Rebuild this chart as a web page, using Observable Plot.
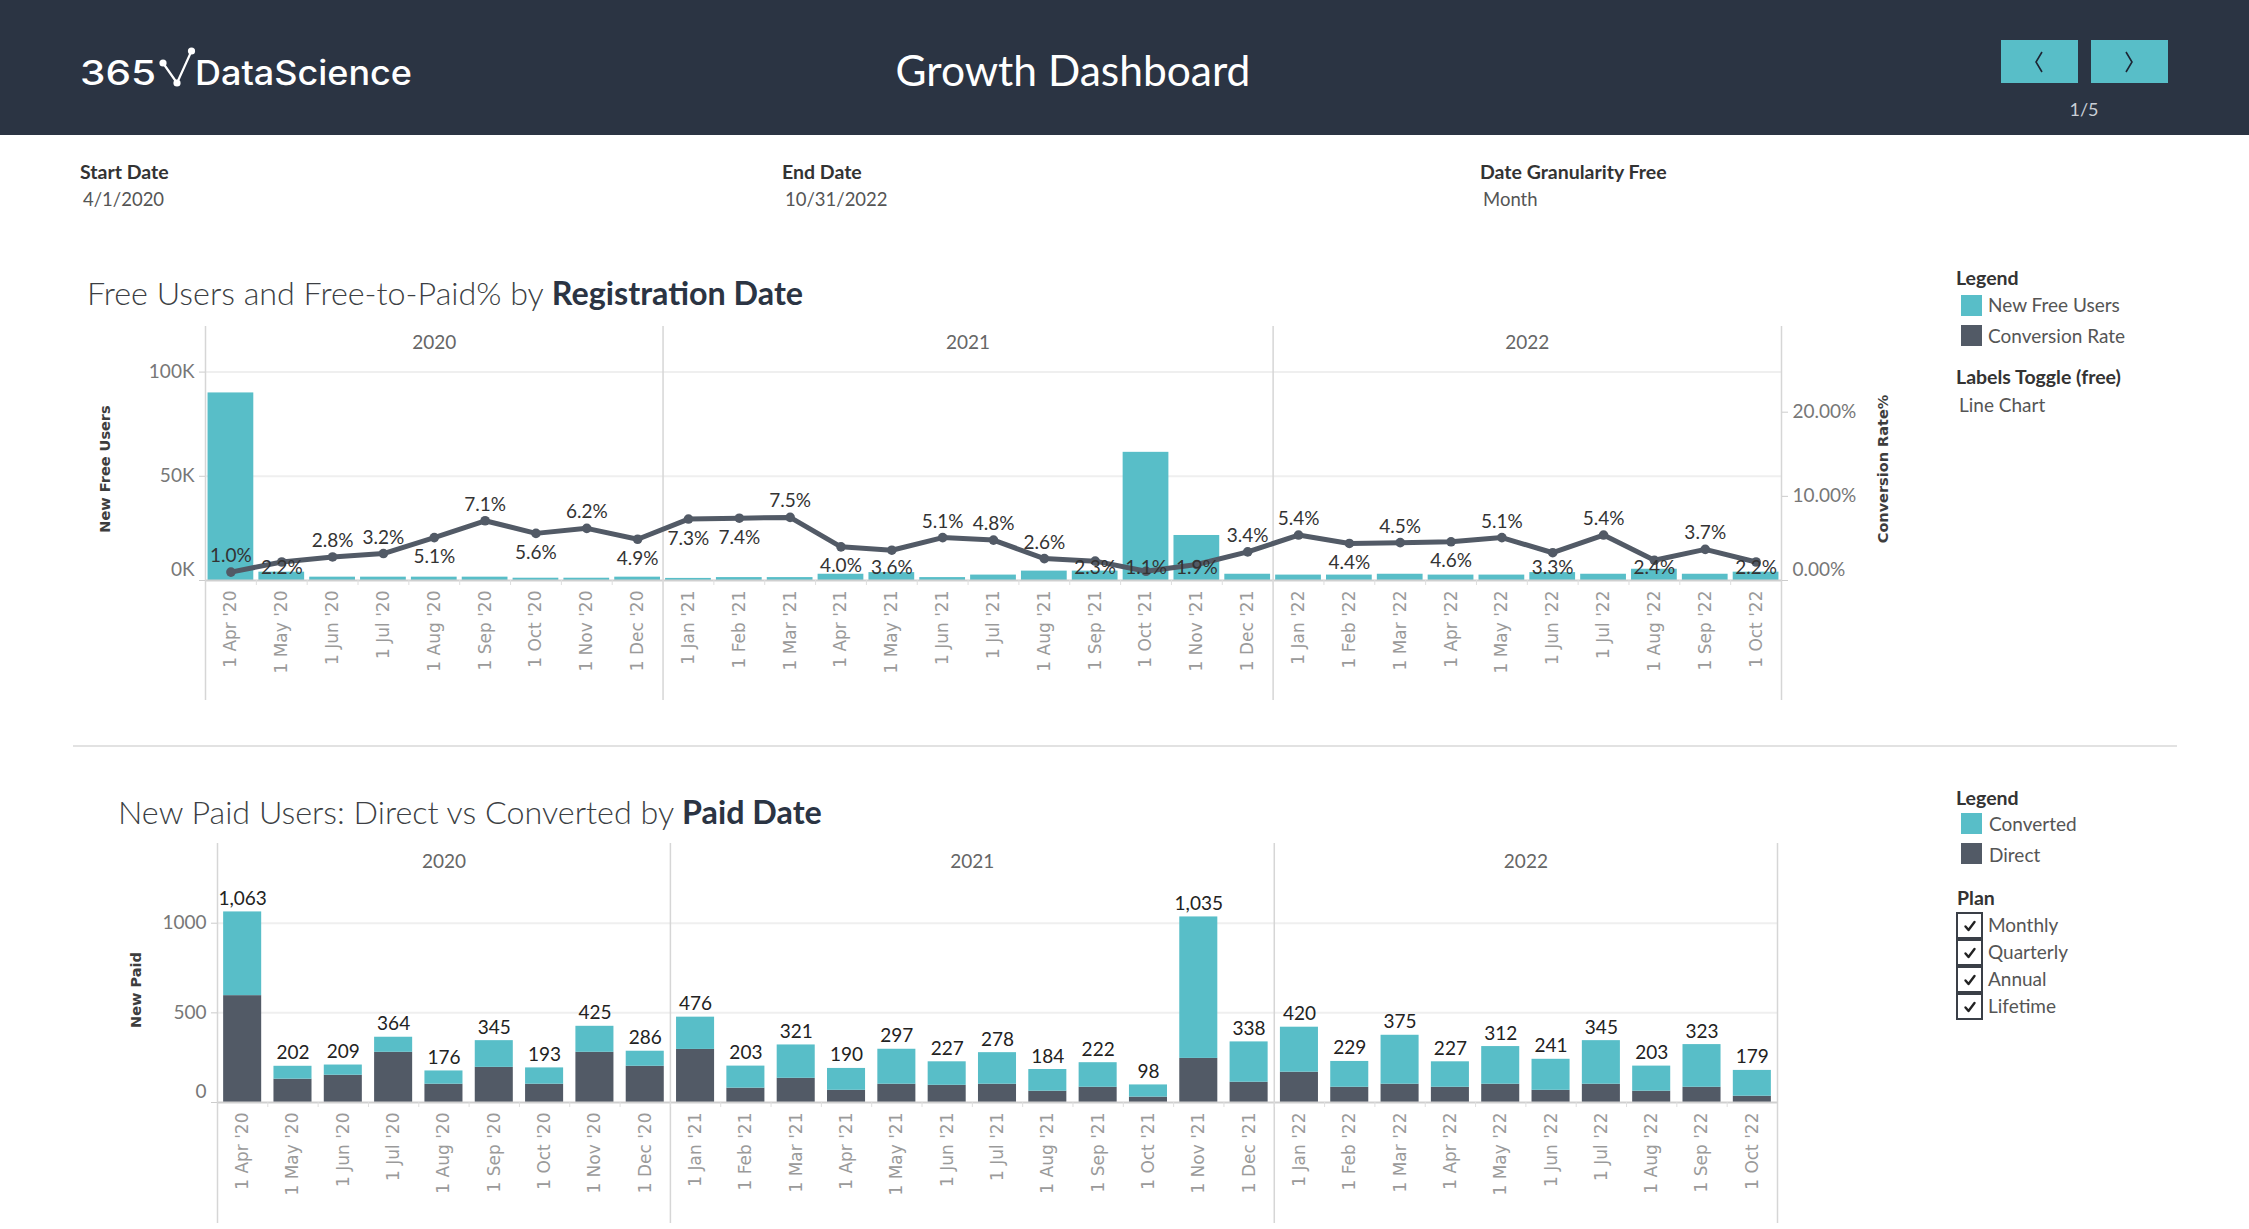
<!DOCTYPE html>
<html>
<head>
<meta charset="utf-8">
<title>Growth Dashboard</title>
<script src="https://cdn.jsdelivr.net/npm/d3@7"></script>
<script src="https://cdn.jsdelivr.net/npm/@observablehq/plot@0.6"></script>
<style>
  body { margin: 0; background: #fff; }
  #page { position: relative; width: 2249px; height: 1229px; overflow: hidden; background: #fff;
          font-family: Lato, "Noto Sans", sans-serif; color: #333; }
  #header { position: absolute; left: 0; top: 0; width: 2249px; height: 135px; background: #2b3443; }
  .t { position: absolute; white-space: nowrap; line-height: 1.2; transform: translateY(-50%); }
  .btn { position: absolute; top: 40px; width: 77px; height: 43px; background: #58bec8; }
  .btn svg { position: absolute; left: 28px; top: 9px; }
  .lbl { font-size: 19.5px; font-weight: 700; color: #333; }
  .val { font-size: 18.5px; color: #555; }
  .ctitle { font-size: 32.3px; font-weight: 300; color: #3c3f44; }
  .ctitle b { font-weight: 700; color: #2b3443; }
  .chart { position: absolute; left: 0; }
  .sw { position: absolute; width: 21px; height: 21px; }
  .cb { position: absolute; left: 1956px; width: 23px; height: 23px; border: 2px solid #3a3f47; background: #fff; }
  .cb svg { position: absolute; left: 5px; top: 5px; }
</style>
</head>
<body>
<div id="page">
  <div id="header">
    <svg width="450" height="135" style="position:absolute;left:0;top:0">
      <text x="80" y="85" font-family="Inter, Lato, sans-serif" font-weight="500" font-size="34" fill="#fff" textLength="76" lengthAdjust="spacingAndGlyphs">365</text>
      <polyline points="163,63 177,83 191.5,51" fill="none" stroke="#fff" stroke-width="2.2"/>
      <circle cx="163" cy="63" r="3.6" fill="#fff"/>
      <circle cx="177" cy="83" r="3.6" fill="#fff"/>
      <circle cx="191.5" cy="51" r="3.6" fill="#fff"/>
      <text x="195" y="85" font-family="Inter, Lato, sans-serif" font-weight="500" font-size="34" fill="#fff" textLength="217" lengthAdjust="spacingAndGlyphs">DataScience</text>
    </svg>
    <div class="t" style="left:1073px;top:69px;transform:translate(-50%,-50%);font-size:42.5px;color:#fff;">Growth Dashboard</div>
    <div class="btn" style="left:2001px"><svg width="20" height="26"><polyline points="13,3 7,13 13,23" fill="none" stroke="#1d2533" stroke-width="1.6"/></svg></div>
    <div class="btn" style="left:2091px"><svg width="20" height="26"><polyline points="7,3 13,13 7,23" fill="none" stroke="#1d2533" stroke-width="1.6"/></svg></div>
    <div class="t" style="left:2084px;top:110px;transform:translate(-50%,-50%);font-size:18px;color:#c9ced6;">1/5</div>
  </div>

  <div class="t lbl" style="left:80px;top:172px">Start Date</div>
  <div class="t val" style="left:83px;top:199px">4/1/2020</div>
  <div class="t lbl" style="left:782px;top:172px">End Date</div>
  <div class="t val" style="left:785px;top:199px">10/31/2022</div>
  <div class="t lbl" style="left:1480px;top:172px">Date Granularity Free</div>
  <div class="t val" style="left:1483px;top:199px">Month</div>

  <div class="t ctitle" style="left:87px;top:293px">Free Users and Free-to-Paid% by <b>Registration Date</b></div>
  <div id="top-chart" class="chart" style="top:320px"></div>

  <div style="position:absolute;left:73px;top:745px;width:2104px;height:2px;background:#e2e2e2"></div>

  <div class="t ctitle" style="left:118px;top:812px">New Paid Users: Direct vs Converted by <b>Paid Date</b></div>
  <div id="bottom-chart" class="chart" style="top:830px"></div>

  <!-- legend: registrations -->
  <div class="t lbl" style="left:1956px;top:278px">Legend</div>
  <div class="sw" id="sw-free" style="left:1961px;top:295px"></div>
  <div class="t val" style="left:1988px;top:305px;font-size:19px">New Free Users</div>
  <div class="sw" id="sw-rate" style="left:1961px;top:325px"></div>
  <div class="t val" style="left:1988px;top:336px;font-size:19px">Conversion Rate</div>
  <div class="t lbl" style="left:1956px;top:377px">Labels Toggle (free)</div>
  <div class="t val" style="left:1959px;top:405px;font-size:19px">Line Chart</div>

  <!-- legend: paid users -->
  <div class="t lbl" style="left:1956px;top:798px">Legend</div>
  <div class="sw" id="sw-conv" style="left:1961px;top:813px"></div>
  <div class="t val" style="left:1989px;top:824px;font-size:19px">Converted</div>
  <div class="sw" id="sw-direct" style="left:1961px;top:843px"></div>
  <div class="t val" style="left:1989px;top:855px;font-size:19px">Direct</div>
  <div class="t lbl" style="left:1957px;top:898px">Plan</div>
  <div id="plans"></div>
</div>

<script>
// Months on both charts (Apr 2020 – Oct 2022)
const months = [
  "1 Apr '20","1 May '20","1 Jun '20","1 Jul '20","1 Aug '20","1 Sep '20","1 Oct '20","1 Nov '20","1 Dec '20",
  "1 Jan '21","1 Feb '21","1 Mar '21","1 Apr '21","1 May '21","1 Jun '21","1 Jul '21","1 Aug '21","1 Sep '21","1 Oct '21","1 Nov '21","1 Dec '21",
  "1 Jan '22","1 Feb '22","1 Mar '22","1 Apr '22","1 May '22","1 Jun '22","1 Jul '22","1 Aug '22","1 Sep '22","1 Oct '22"
];
const years = ["2020", "2021", "2022"];
const monthsPerYear = [9, 12, 10];

// New free users by registration month
const newFreeUsers = [
  90000, 4000, 1600, 1600, 1600, 1600, 1100, 1100, 1600,
  1000, 1400, 1400, 3000, 3800, 1400, 2600, 4500, 4500, 61500, 21600, 3000,
  2600, 2600, 3000, 2600, 2600, 3800, 3000, 5400, 3000, 4000
];
// Free-to-paid conversion rate, percent
const conversionRate = [
  1.0, 2.2, 2.8, 3.2, 5.1, 7.1, 5.6, 6.2, 4.9,
  7.3, 7.4, 7.5, 4.0, 3.6, 5.1, 4.8, 2.6, 2.3, 1.1, 1.9, 3.4,
  5.4, 4.4, 4.5, 4.6, 5.1, 3.3, 5.4, 2.4, 3.7, 2.2
];
// New paid users by paid month: total and the direct share
const newPaidTotal = [
  1063, 202, 209, 364, 176, 345, 193, 425, 286,
  476, 203, 321, 190, 297, 227, 278, 184, 222, 98, 1035, 338,
  420, 229, 375, 227, 312, 241, 345, 203, 323, 179
];
const newPaidDirect = [
  596, 130, 152, 280, 102, 196, 102, 280, 202,
  296, 80, 135, 68, 102, 96, 102, 63, 85, 30, 246, 113,
  169, 85, 102, 85, 102, 68, 102, 63, 85, 35
];
const plans = ["Monthly", "Quarterly", "Annual", "Lifetime"];

// which side of the line each rate label sits on
const rateLabelSide = [
  "above","below","above","above","below","above","below","above","below",
  "below","below","above","below","below","above","above","above","below","below","below","above",
  "above","below","above","below","above","below","above","below","above","below"
];

const teal = "#58bec8", slate = "#525a66";
const font = "Lato, 'Noto Sans', sans-serif";
const axisFont = "'DejaVu Sans', Verdana, sans-serif";
const textSize = 19;

let start = 0;
const yearSpans = years.map((year, j) => {
  const first = start; start += monthsPerYear[j];
  return {year, first, last: start - 1};
});
const paneEdges = [-0.5, ...yearSpans.map(d => d.last + 0.5)];
const monthEdges = d3.range(months.length - 1).map(i => i + 0.5);
const monthIdx = d3.range(months.length);

// ---------- Free users (bars) and conversion rate (line, right axis) ----------
const freeMax = 107000, rateMax = 0.265, k = freeMax / rateMax;
const freeRows = months.map((month, i) => ({
  i, month, free: newFreeUsers[i], rate: conversionRate[i] / 100,
  label: conversionRate[i].toFixed(1) + "%", side: rateLabelSide[i]
}));

const axisTitle = (title, anchor, dx) => Plot.text([title], {
  text: d => d, frameAnchor: anchor, textAnchor: "middle", dx, rotate: -90,
  fontFamily: axisFont, fontWeight: "bold", fontSize: 14.5, fill: "#3d3d3d"
});

const topChart = Plot.plot({
  width: 1920, height: 390,
  marginLeft: 205, marginRight: 139, marginTop: 37, marginBottom: 130,
  x: {domain: [-0.5, months.length - 0.5], label: null},
  y: {domain: [0, freeMax], label: null},
  style: {fontFamily: font, fontSize: textSize + "px", background: "transparent", overflow: "visible"},
  marks: [
    Plot.ruleY([50000, 100000], {stroke: "#efefef", strokeWidth: 2}),
    Plot.rectY(freeRows, {x1: d => d.i - 0.45, x2: d => d.i + 0.45, y1: 0, y2: "free", fill: teal}),
    Plot.ruleY([0], {stroke: "#cfcfcf", strokeWidth: 2}),
    Plot.ruleX(paneEdges, {stroke: "#d6d6d6", strokeWidth: 1.5, insetTop: -31, insetBottom: -120}),
    Plot.axisX(monthEdges, {tickFormat: () => "", tickSize: 5, stroke: "#dedede", label: null}),
    Plot.axisX(monthIdx, {tickFormat: i => months[i], tickRotate: -90, tickSize: 0, tickPadding: 10, label: null,
      fontFamily: axisFont, fontSize: 17, fill: "#9a9a9a"}),
    Plot.axisY([50000, 100000], {anchor: "left", tickFormat: d => d / 1000 + "K", tickSize: 6, tickPadding: 5,
      stroke: "#cccccc", fill: "#777", fontSize: textSize, label: null}),
    Plot.axisY([0], {anchor: "left", tickFormat: () => "", tickSize: 6, stroke: "#cccccc", label: null}),
    Plot.text([0], {y: d => d, frameAnchor: "left", dx: -11, dy: -11, textAnchor: "end", text: () => "0K", fill: "#777", fontSize: textSize}),
    Plot.axisY([0.1, 0.2].map(v => v * k), {anchor: "right", tickFormat: v => (v / k * 100).toFixed(2) + "%",
      tickSize: 6, tickPadding: 5, stroke: "#cccccc", fill: "#777", fontSize: textSize, label: null}),
    Plot.axisY([0], {anchor: "right", tickFormat: () => "", tickSize: 6, stroke: "#cccccc", label: null}),
    Plot.text([0], {y: d => d, frameAnchor: "right", dx: 11, dy: -11, textAnchor: "start", text: () => "0.00%", fill: "#777", fontSize: textSize}),
    Plot.line(freeRows, {x: "i", y: d => d.rate * k, stroke: slate, strokeWidth: 5, strokeLinejoin: "round"}),
    Plot.dot(freeRows, {x: "i", y: d => d.rate * k, r: 4.8, fill: slate}),
    Plot.text(freeRows.filter(d => d.side === "above"), {x: "i", y: d => d.rate * k, text: "label",
      dy: -10, lineAnchor: "bottom", fill: "#333", fontSize: textSize}),
    Plot.text(freeRows.filter(d => d.side === "below"), {x: "i", y: d => Math.max(d.rate, 0.038) * k, text: "label",
      dy: 12, lineAnchor: "top", fill: "#333", fontSize: textSize}),
    Plot.text(yearSpans, {x: d => (d.first + d.last) / 2, frameAnchor: "top", dy: -22, text: "year", fill: "#666", fontSize: textSize}),
    axisTitle("New Free Users", "left", -100),
    axisTitle("Conversion Rate%", "right", 102)
  ]
});
document.getElementById("top-chart").append(topChart);

// ---------- New paid users: direct vs converted (stacked) ----------
const paidMax = 1255;
const paidRows = months.flatMap((month, i) => [
  {i, type: "Direct", y1: 0, y2: newPaidDirect[i]},
  {i, type: "Converted", y1: newPaidDirect[i], y2: newPaidTotal[i]}
]);
const totalRows = months.map((month, i) => ({i, total: newPaidTotal[i]}));
const fmt = d3.format(",");

const bottomChart = Plot.plot({
  width: 1920, height: 399,
  marginLeft: 217, marginRight: 143, marginTop: 47, marginBottom: 127,
  x: {domain: [-0.5, months.length - 0.5], label: null},
  y: {domain: [0, paidMax], label: null},
  color: {domain: ["Converted", "Direct"], range: [teal, slate]},
  style: {fontFamily: font, fontSize: textSize + "px", background: "transparent", overflow: "visible"},
  marks: [
    Plot.ruleY([500, 1000], {stroke: "#efefef", strokeWidth: 2}),
    Plot.rectY(paidRows, {x1: d => d.i - 0.378, x2: d => d.i + 0.378, y1: "y1", y2: "y2", fill: "type"}),
    Plot.ruleY([0], {stroke: "#cfcfcf", strokeWidth: 2}),
    Plot.ruleX(paneEdges, {stroke: "#d6d6d6", strokeWidth: 1.5, insetTop: -34, insetBottom: -121}),
    Plot.axisX(monthEdges, {tickFormat: () => "", tickSize: 5, stroke: "#dedede", label: null}),
    Plot.axisX(monthIdx, {tickFormat: i => months[i], tickRotate: -90, tickSize: 0, tickPadding: 10, label: null,
      fontFamily: axisFont, fontSize: 17, fill: "#9a9a9a"}),
    Plot.axisY([500, 1000], {anchor: "left", tickSize: 6, tickPadding: 5, tickFormat: d => String(d),
      stroke: "#cccccc", fill: "#777", fontSize: textSize, label: null}),
    Plot.axisY([0], {anchor: "left", tickFormat: () => "", tickSize: 6, stroke: "#cccccc", label: null}),
    Plot.text([0], {y: d => d, frameAnchor: "left", dx: -11, dy: -11, textAnchor: "end", text: () => "0", fill: "#777", fontSize: textSize}),
    Plot.text(totalRows, {x: "i", y: "total", text: d => fmt(d.total), dy: -7, lineAnchor: "bottom", fill: "#222", fontSize: textSize}),
    Plot.text(yearSpans, {x: d => (d.first + d.last) / 2, frameAnchor: "top", dy: -23, text: "year", fill: "#666", fontSize: textSize}),
    axisTitle("New Paid", "left", -81)
  ]
});
document.getElementById("bottom-chart").append(bottomChart);

// legend swatches share the chart colours
document.getElementById("sw-free").style.background = teal;
document.getElementById("sw-rate").style.background = slate;
document.getElementById("sw-conv").style.background = teal;
document.getElementById("sw-direct").style.background = slate;

// plan filter checkboxes
const planBox = document.getElementById("plans");
plans.forEach((p, j) => {
  const top = 912 + j * 27;
  const cb = document.createElement("div");
  cb.className = "cb";
  cb.style.top = top + "px";
  cb.innerHTML = '<svg width="14" height="14"><path d="M2.5 7.5 L5.5 11 L11.5 3" fill="none" stroke="#222" stroke-width="2.4" stroke-linecap="round" stroke-linejoin="round"/></svg>';
  planBox.append(cb);
  const t = document.createElement("div");
  t.className = "t val";
  t.style.cssText = `left:1988px;top:${top + 13}px;font-size:19px`;
  t.textContent = p;
  planBox.append(t);
});
</script>
</body>
</html>
